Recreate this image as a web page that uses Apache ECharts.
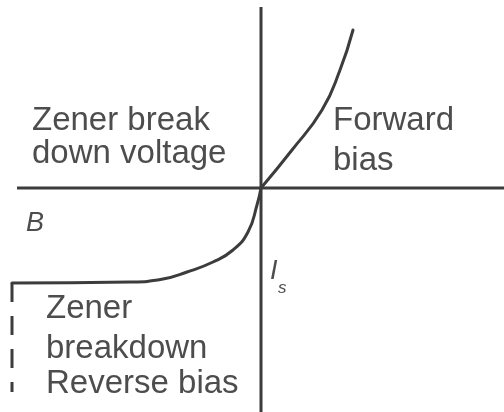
<!DOCTYPE html>
<html>
<head>
<meta charset="utf-8">
<style>
  html, body { margin: 0; padding: 0; background: #fff; }
  #chart { width: 504px; height: 412px; }
</style>
<script src="https://cdn.jsdelivr.net/npm/echarts@6/dist/echarts.min.js"></script>
</head>
<body>
<div id="chart"></div>
<script>
// Zener diode I–V characteristic (arbitrary units, origin at the axes crossing)

// Breakdown knee and reverse region
const reverseV = [-249, -131, -98, -74, -48, -28, -13, -4, 0];
const reverseI = [-95, -94, -91, -84, -74, -62, -44, -17, 0];
// Forward-bias rise
const forwardV = [0, 31, 61, 79, 92];
const forwardI = [0, 38, 78, 118, 158];

// Vertical breakdown line below the knee (dashed)
const breakdownV = [-249, -249];
const breakdownI = [-95, -204];

// Axis extents
const voltageAxisV = [-244, 243];
const currentAxisI = [181, -224];

const pairs = (xs, ys) => xs.map((x, k) => [x, ys[k]]);

const ink = '#3c3c3c';
const textInk = '#4d4d4d';
const font = '"Liberation Sans", Arial, Helvetica, sans-serif';

const chart = echarts.init(document.getElementById('chart'));

function txt(x, y, s, opts) {
  return Object.assign({
    type: 'text', left: x, top: y,
    style: { text: s, fill: textInk, font: '33px ' + font }
  }, opts || {});
}

const curveStyle = { color: ink, width: 3, join: 'round', cap: 'round' };

chart.setOption({
  animation: false,
  backgroundColor: '#fff',
  grid: { left: 0, right: 0, top: 0, bottom: 0 },
  xAxis: { type: 'value', min: -261, max: 243, show: false },
  yAxis: { type: 'value', min: -224, max: 188, show: false },
  series: [
    {
      type: 'line', symbol: 'none',
      data: voltageAxisV.map(v => [v, 0]),
      lineStyle: { color: ink, width: 3 }
    },
    {
      type: 'line', symbol: 'none',
      data: currentAxisI.map(i => [0, i]),
      lineStyle: { color: ink, width: 3 }
    },
    {
      type: 'line', symbol: 'none', smooth: 0.5,
      data: pairs(reverseV, reverseI),
      lineStyle: curveStyle
    },
    {
      type: 'line', symbol: 'none', smooth: 0.5,
      data: pairs(forwardV, forwardI),
      lineStyle: curveStyle
    },
    {
      type: 'line', symbol: 'none',
      data: pairs(breakdownV, breakdownI),
      lineStyle: { color: ink, width: 3, type: [19, 14] }
    }
  ],
  graphic: [
    txt(32, 104, 'Zener break'),
    txt(32, 137, 'down voltage'),
    txt(333, 104, 'Forward'),
    txt(333, 144, 'bias'),
    txt(26, 210, 'B', { style: { text: 'B', fill: textInk, font: 'italic 27px ' + font } }),
    txt(270, 258, 'I', { style: { text: 'I', fill: textInk, font: 'italic 27px ' + font } }),
    txt(278, 280, 's', { style: { text: 's', fill: textInk, font: 'italic 17px ' + font } }),
    txt(46, 292, 'Zener'),
    txt(46, 332, 'breakdown'),
    txt(46, 367, 'Reverse bias')
  ]
});
</script>
</body>
</html>
